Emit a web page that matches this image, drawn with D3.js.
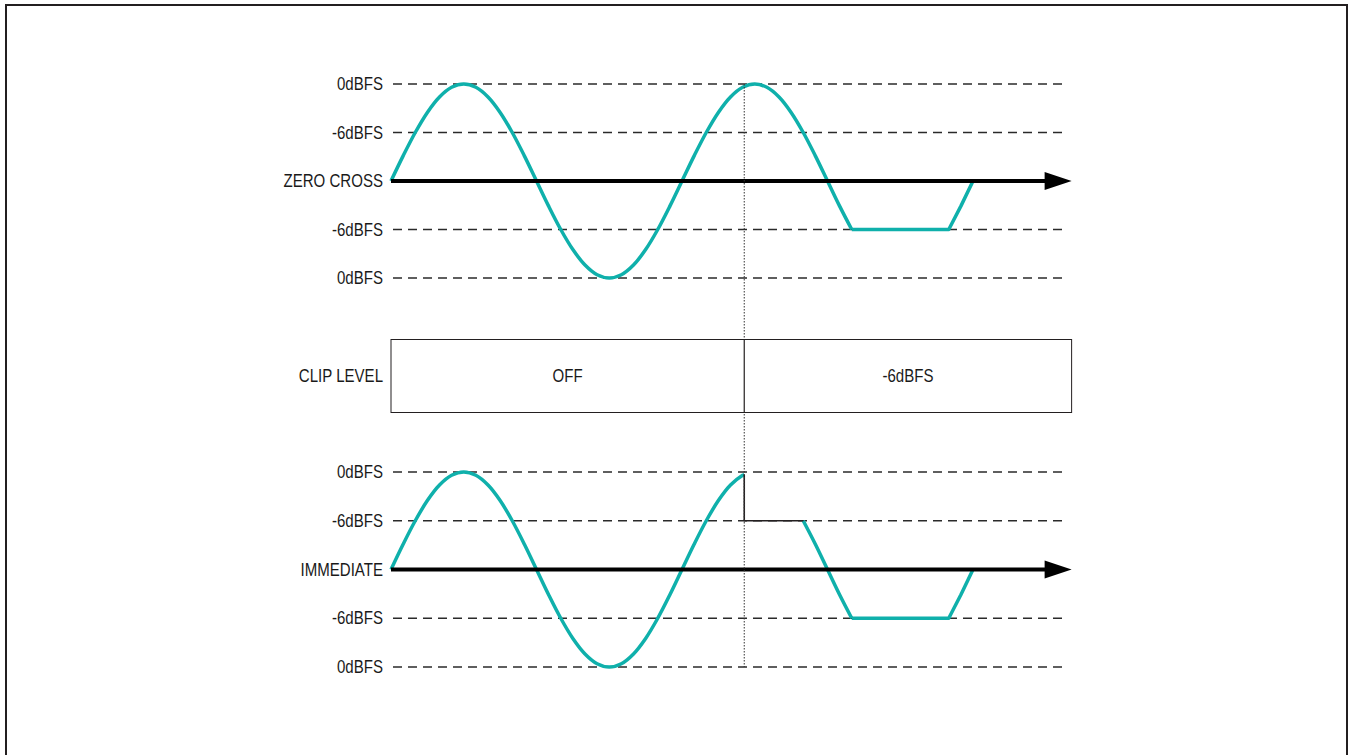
<!DOCTYPE html>
<html><head><meta charset="utf-8">
<script src="https://cdn.jsdelivr.net/npm/d3@7"></script>
<style>
body{margin:0;background:#fff}
svg{display:block}
text{font-family:"Liberation Sans",Arial,sans-serif;font-size:17.5px;fill:#1a1a1a}
</style></head>
<body><svg id="c" width="1350" height="755"></svg>
<script>
// ---- data ----
const levelValues = [1, 0.5, 0, -0.5, -1];
const levelLabels = ["0dBFS", "-6dBFS", null, "-6dBFS", "0dBFS"];
const panelNames = ["ZERO CROSS", "IMMEDIATE"];
const clipTitle = "CLIP LEVEL";
const clipLabels = ["OFF", "-6dBFS"];
const clipSwitchDeg = 437;   // phase where clip level changes
const axisEndDeg = 842;
const gridEndDeg = 835;

// top (zero-cross) waveform: smooth part, then clipped part
const topSmoothDeg = [0,15,30,45,60,75,90,105,120,135,150,165,180,195,210,225,240,255,270,285,300,315,330,345,360,375,390,405,420,435,450,465,480,495,510,525,540,555,570];
const topSmoothAmp = [0,.259,.5,.707,.866,.966,1,.966,.866,.707,.5,.259,0,-.259,-.5,-.707,-.866,-.966,-1,-.966,-.866,-.707,-.5,-.259,0,.259,.5,.707,.866,.966,1,.966,.866,.707,.5,.259,0,-.259,-.5];
const topClipDeg = [570,690,705,720];
const topClipAmp = [-.5,-.5,-.259,0];

// bottom (immediate) waveform
const botSmoothDeg = [0,15,30,45,60,75,90,105,120,135,150,165,180,195,210,225,240,255,270,285,300,315,330,345,360,375,390,405,420,435,437];
const botSmoothAmp = [0,.259,.5,.707,.866,.966,1,.966,.866,.707,.5,.259,0,-.259,-.5,-.707,-.866,-.966,-1,-.966,-.866,-.707,-.5,-.259,0,.259,.5,.707,.866,.966,.974];
const botJumpDeg = [437,437,510];
const botJumpAmp = [.974,.5,.5];
const botFallDeg = [510,525,540,555,570];
const botFallAmp = [.5,.259,0,-.259,-.5];
const botClipDeg = [570,690,705,720];
const botClipAmp = [-.5,-.5,-.259,0];

// ---- scales ----
const svg = d3.select("#c");
const x = d3.scaleLinear().domain([0, 360]).range([391, 682]);
const yTop = d3.scaleLinear().domain([-1, 1]).range([278, 84]);
const yBot = d3.scaleLinear().domain([-1, 1]).range([667, 472]);
const teal = "#0fb0ab", ink = "#231f20";
const SX = 0.86; // narrow lettering

function label(px, py, str, anchor) {
  svg.append("text").attr("transform", `translate(${px},${py}) scale(${SX},1)`)
    .attr("dy", "0.35em").attr("text-anchor", anchor).text(str);
}

// frame
svg.append("path").attr("d", "M6,760V5H1347V760").attr("fill","none").attr("stroke", ink).attr("stroke-width", 2);

function panel(y, name, waves) {
  levelValues.forEach((v, i) => {
    if (levelLabels[i] !== null) {
      svg.append("line").attr("x1", x(0)+2).attr("x2", x(gridEndDeg))
        .attr("y1", y(v)).attr("y2", y(v))
        .attr("stroke", "#2a2a2a").attr("stroke-width", 1.4).attr("stroke-dasharray", "9,6");
    }
    label(383, y(v), levelLabels[i] === null ? name : levelLabels[i], "end");
  });
  waves.forEach(w => {
    const line = d3.line().x(d => x(d[0])).y(d => y(d[1])).curve(w.smooth ? d3.curveCatmullRom : d3.curveLinear);
    svg.append("path").datum(d3.zip(w.deg, w.amp)).attr("d", line)
      .attr("fill", "none").attr("stroke", w.color).attr("stroke-width", w.width)
      .attr("stroke-linejoin", "round").attr("stroke-linecap", "butt");
  });
  const x0 = x(0), x1 = x(axisEndDeg), y0 = y(0);
  svg.append("line").attr("x1", x0).attr("x2", x1 - 25).attr("y1", y0).attr("y2", y0)
    .attr("stroke", "#000").attr("stroke-width", 4);
  svg.append("path").attr("d", `M${x1-27},${y0-9}L${x1},${y0}L${x1-27},${y0+9}Z`).attr("fill", "#000");
}

panel(yTop, panelNames[0], [
  {deg: topSmoothDeg, amp: topSmoothAmp, color: teal, width: 3.5, smooth: true},
  {deg: topClipDeg, amp: topClipAmp, color: teal, width: 3.5, smooth: false}
]);
panel(yBot, panelNames[1], [
  {deg: botSmoothDeg, amp: botSmoothAmp, color: teal, width: 3.5, smooth: true},
  {deg: botFallDeg, amp: botFallAmp, color: teal, width: 3.5, smooth: true},
  {deg: botClipDeg, amp: botClipAmp, color: teal, width: 3.5, smooth: false},
  {deg: botJumpDeg, amp: botJumpAmp, color: ink, width: 1.6, smooth: false}
]);

// dotted switch line
svg.append("line").attr("x1", x(clipSwitchDeg)).attr("x2", x(clipSwitchDeg))
  .attr("y1", yTop(1)).attr("y2", yBot(-1))
  .attr("stroke", "#333").attr("stroke-width", 1).attr("stroke-dasharray", "1.5,1.5");

// clip level box
const boxY = 339.5, boxH = 73;
const xb = x(0), xs = x(clipSwitchDeg), xe = x(axisEndDeg);
svg.append("rect").attr("x", xb).attr("y", boxY).attr("width", xe - xb).attr("height", boxH)
  .attr("fill", "#fff").attr("stroke", ink).attr("stroke-width", 1);
svg.append("line").attr("x1", xs).attr("x2", xs).attr("y1", boxY).attr("y2", boxY + boxH)
  .attr("stroke", ink).attr("stroke-width", 1.2);
label(383, boxY + boxH/2, clipTitle, "end");
label((xb + xs)/2, boxY + boxH/2, clipLabels[0], "middle");
label((xs + xe)/2, boxY + boxH/2, clipLabels[1], "middle");
</script></body></html>
